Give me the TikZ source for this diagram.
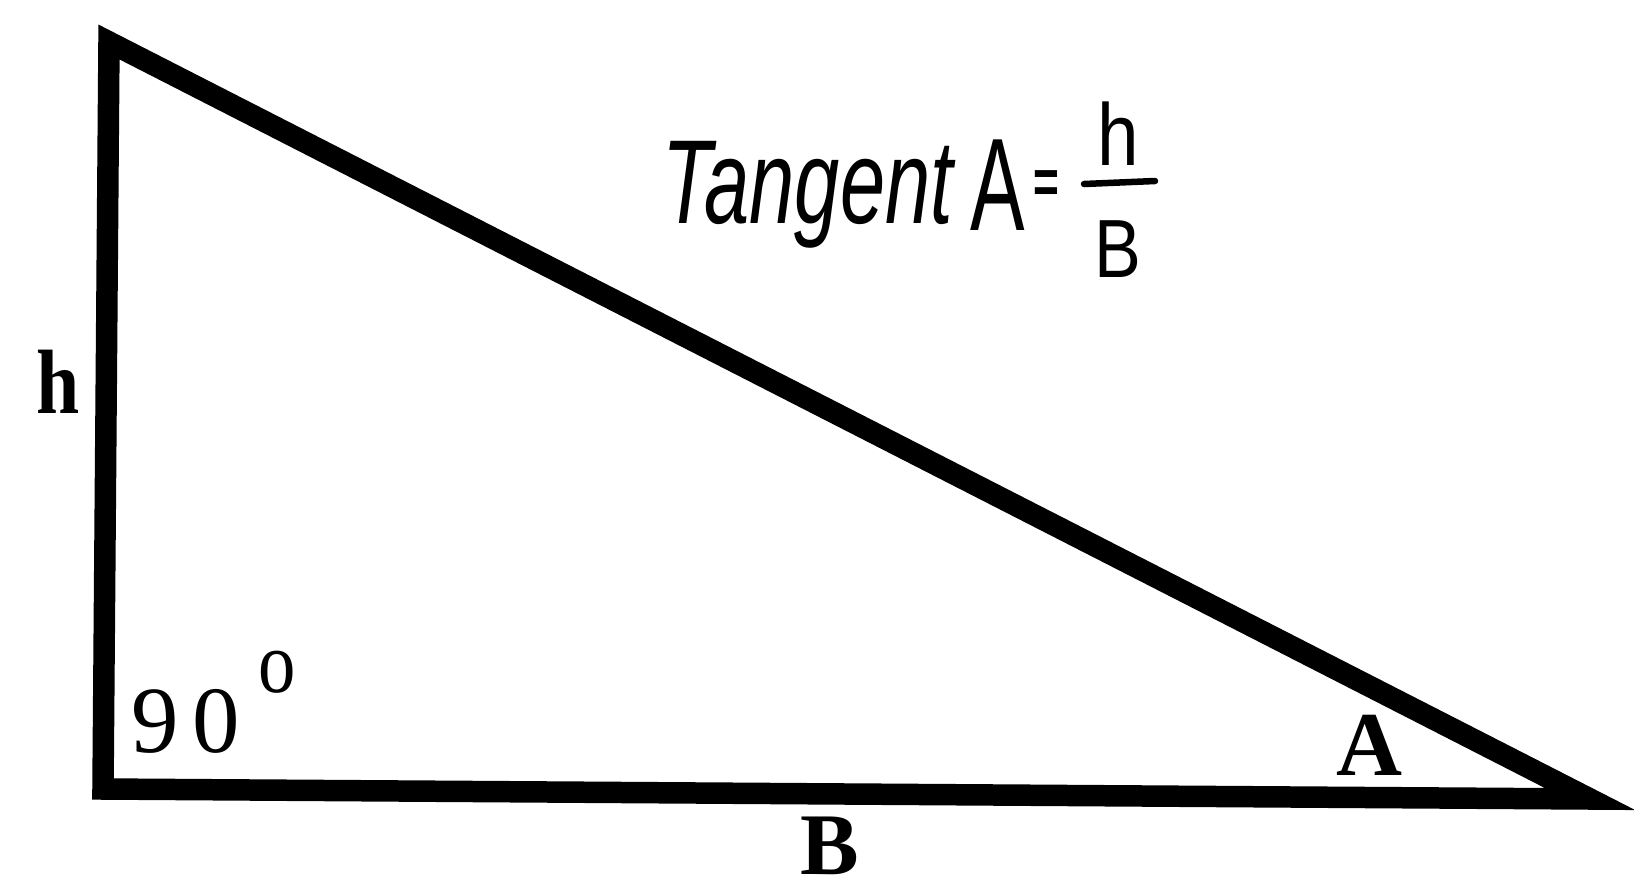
\documentclass[tikz,border=0pt]{standalone}
\usepackage{fontspec}
\usepackage{graphicx}
\setmainfont{Liberation Serif}
\newfontfamily\handfont{Liberation Sans}
\usetikzlibrary{calc}

\begin{document}
\begin{tikzpicture}[
        x=0.02cm, y=-0.02cm,
        edge/.style={line width=0.43cm, line join=miter, miter limit=20},
        lbl/.style={inner sep=0pt, anchor=base west, font=\fontsize{52}{52}\selectfont\bfseries},
        hand/.style={inner sep=0pt, anchor=base west, font=\handfont},
        bar/.style={line width=0.13cm, line cap=round},
    ]

    % ── Frame ──
    \useasboundingbox[fill=white] (0,0) rectangle (1634,887);

    % ── Triangle ──
    \coordinate (top) at (109,42);
    \coordinate (corner) at (103,789);
    \coordinate (tip) at (1590,799);
    \draw[edge] (top) -- (corner) -- (tip) -- cycle;

    % ── Side and angle labels ──
    \node[lbl] (hlbl) at (36,413) {\scalebox{0.85}[1]{h}};
    \node[lbl, anchor=base, font=\fontsize{50}{50}\selectfont\bfseries] (blbl) at (830,874) {B};
    \node[lbl, anchor=base, font=\fontsize{52}{52}\selectfont\bfseries] (albl) at (1369,775) {A};
    \node[lbl, font=\fontsize{54}{54}\selectfont] (right) at (131,752) {9\hspace{8pt}0};
    \node[lbl, font=\fontsize{50}{50}\selectfont] (deg) at (258,692) {\scalebox{0.85}[1]{o}};

    % ── Formula ──
    \node[hand] (tan) at (662,223) {\scalebox{0.68}[1]{\fontsize{68}{68}\selectfont\itshape Tangent}};
    \node[hand] (ang) at (970,230) {\scalebox{0.62}[1]{\fontsize{75}{75}\selectfont A}};
    \node[hand] (eq) at (1033,203) {\scalebox{0.7}[1]{\fontsize{36}{36}\selectfont\bfseries =}};
    \node[hand, anchor=base] (num) at (1118,165) {\scalebox{0.85}[1]{\fontsize{50}{50}\selectfont h}};
    \node[hand, anchor=base] (den) at (1118,277) {\scalebox{0.85}[1]{\fontsize{47}{47}\selectfont B}};
    \draw[bar] (1084,184) -- (1155,181);

\end{tikzpicture}
\end{document}
